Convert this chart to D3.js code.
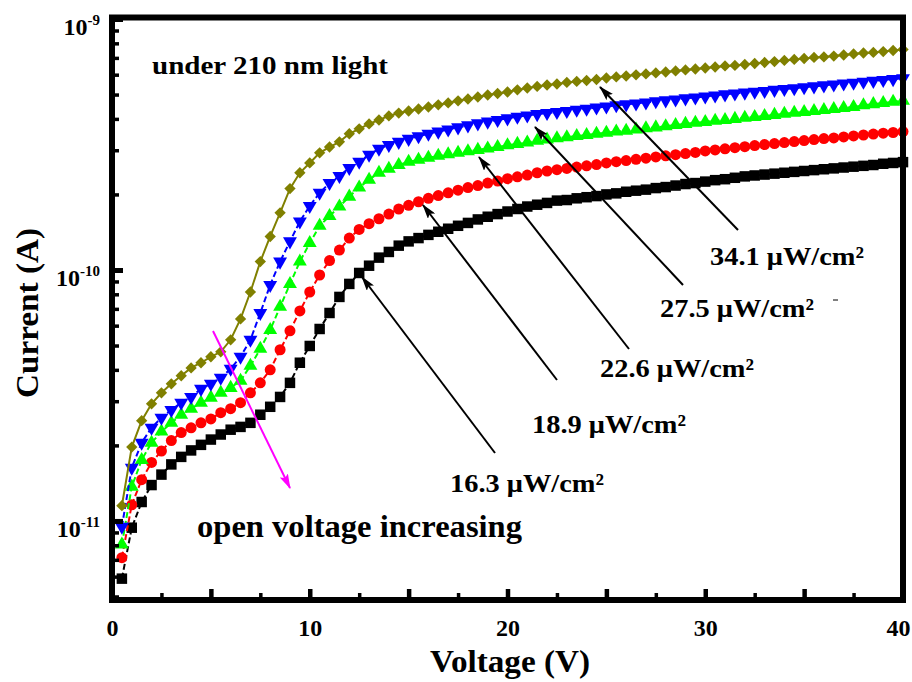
<!DOCTYPE html>
<html lang="en">
<head>
<meta charset="UTF-8">
<title>Current-Voltage under 210 nm light</title>
<script src="https://cdn.jsdelivr.net/npm/d3@7/dist/d3.min.js"></script>
<style>
    body { margin: 0; background: #fff; }
    svg { display: block; }
    text {
        font-family: "Liberation Serif", "Times New Roman", Times, serif;
        font-weight: bold;
        fill: #000;
    }
</style>
</head>
<body>
<script>
    const width = 912;
    const height = 682;

    // bias voltage (V)
    const voltages = [0.5, 1, 1.5, 2, 2.5, 3, 3.5, 4, 4.5, 5, 5.5, 6, 6.5, 7, 7.5, 8, 8.5, 9, 9.5, 10,
        10.5, 11, 11.5, 12, 12.5, 13, 13.5, 14, 14.5, 15, 15.5, 16, 16.5, 17, 17.5, 18, 18.5, 19, 19.5, 20,
        20.5, 21, 21.5, 22, 22.5, 23, 23.5, 24, 24.5, 25, 25.5, 26, 26.5, 27, 27.5, 28, 28.5, 29, 29.5, 30,
        30.5, 31, 31.5, 32, 32.5, 33, 33.5, 34, 34.5, 35, 35.5, 36, 36.5, 37, 37.5, 38, 38.5, 39, 39.5, 40];

    // photocurrent, in pA (1e-12 A)
    const cur163 = [5.89, 9.40, 11.9, 13.9, 15.3, 16.8, 18.0, 19.1, 20.1, 21.1, 22.1, 23.1, 23.7, 24.6, 26.5, 28.5, 31.2, 35.5, 42.7, 49.8,
        58.2, 67.4, 78.1, 88.0, 97.3, 104, 112, 118, 125, 130, 134, 138, 142, 146, 150, 154, 159, 163, 167, 171,
        175, 179, 182, 185, 189, 190, 193, 195, 197, 200, 202, 205, 207, 209, 212, 214, 217, 220, 222, 225,
        228, 230, 233, 236, 238, 240, 242, 244, 246, 248, 250, 252, 254, 256, 258, 260, 262, 265, 267, 269];
    const cur189 = [7.14, 11.6, 14.6, 17.1, 19.0, 20.9, 22.5, 23.5, 24.6, 25.5, 27.0, 28.0, 29.6, 32.4, 35.5, 40.0, 48.1, 57.2, 68.7, 81.7,
        95.5, 109, 120, 134, 145, 153, 160, 167, 175, 181, 187, 193, 198, 203, 208, 213, 217, 222, 226, 231,
        235, 239, 244, 248, 251, 254, 257, 260, 263, 267, 270, 273, 276, 279, 282, 285, 288, 291, 294, 298,
        301, 304, 307, 310, 313, 316, 319, 322, 325, 328, 331, 334, 336, 339, 342, 345, 348, 351, 353, 356];
    const cur226 = [8.05, 13.7, 17.5, 20.5, 22.7, 24.6, 26.5, 28.0, 29.6, 31.0, 32.4, 33.9, 36.2, 41.5, 48.5, 57.7, 71.3, 88.0, 108, 128,
        150, 164, 179, 196, 213, 229, 244, 253, 262, 270, 275, 280, 285, 289, 293, 297, 301, 305, 309, 314,
        318, 322, 327, 331, 335, 338, 342, 345, 349, 352, 356, 359, 363, 367, 370, 374, 378, 382, 386, 389,
        393, 396, 400, 404, 407, 411, 415, 419, 423, 426, 430, 434, 438, 442, 446, 453, 458, 463, 468, 473];
    const cur275 = [9.49, 16.3, 20.5, 23.5, 25.8, 27.7, 29.6, 31.2, 33.6, 35.2, 37.2, 40.4, 45.1, 52.7, 67.4, 87.2, 108, 130, 156, 180,
        203, 222, 237, 255, 270, 288, 304, 315, 324, 333, 341, 349, 356, 363, 370, 377, 384, 390, 396, 402,
        408, 413, 418, 422, 426, 430, 435, 439, 444, 448, 453, 457, 461, 465, 470, 474, 478, 483, 487, 491,
        496, 501, 505, 509, 513, 517, 522, 526, 530, 535, 539, 544, 548, 553, 557, 562, 567, 572, 576, 581];
    const cur341 = [11.5, 19.7, 25.1, 29.3, 32.4, 35.2, 37.9, 40.7, 42.7, 45.1, 47.2, 52.7, 63.8, 81.7, 108, 136, 169, 211, 244, 267,
        293, 309, 324, 349, 365, 382, 396, 411, 422, 430, 438, 446, 455, 463, 472, 480, 489, 498, 505, 512,
        522, 531, 539, 546, 551, 559, 564, 569, 574, 582, 588, 593, 599, 604, 610, 615, 621, 627, 632, 638,
        644, 650, 653, 659, 665, 671, 677, 684, 690, 696, 703, 706, 712, 719, 726, 732, 736, 742, 749, 756];

    const intensities = ['16.3', '18.9', '22.6', '27.5', '34.1'];

    // axis ticks
    const xMajor = [0, 5, 10, 15, 20, 25, 30, 35, 40];
    const xMinor = [2.5, 7.5, 12.5, 17.5, 22.5, 27.5, 32.5, 37.5];
    const xLabelled = [0, 10, 20, 30, 40];
    const yMajor = [10, 100, 1000];
    const yExponents = ['-11', '-10', '-9'];
    const yMinor = [5, 6, 7, 8, 9, 20, 30, 40, 50, 60, 70, 80, 90, 200, 300, 400, 500, 600, 700, 800, 900];

    let svg = d3.select('body')
        .append('svg')
        .attr('width', width)
        .attr('height', height);

    svg.append('rect').attr('width', width).attr('height', height).attr('fill', '#fff');

    const x = d3.scaleLinear().domain([0, 40]).range([112, 903]);
    const y = d3.scaleLog().domain([4.842, 1014]).range([600, 17.5]);

    // arrow heads
    let defs = svg.append('defs');
    [['arrowK', '#000'], ['arrowM', '#ff00ff']].forEach(([id, c]) => {
        defs.append('marker')
            .attr('id', id)
            .attr('viewBox', '0 0 15 9')
            .attr('refX', 14).attr('refY', 4.5)
            .attr('markerWidth', 15).attr('markerHeight', 9)
            .attr('markerUnits', 'userSpaceOnUse')
            .attr('orient', 'auto')
            .append('path')
            .attr('d', 'M0,0 L15,4.5 L0,9 L3,4.5 Z')
            .attr('fill', c);
    });

    // series styles
    const series = [
        {values: cur163, color: '#000000', symbol: d3.symbolSquare, size: 110, rot: 0, dash: '6,3'},
        {values: cur189, color: '#ff0000', symbol: d3.symbolCircle, size: 95, rot: 0, dash: '6,3'},
        {values: cur226, color: '#00ff00', symbol: d3.symbolTriangle, size: 84, rot: 0, dash: '6,3'},
        {values: cur275, color: '#0000ff', symbol: d3.symbolTriangle, size: 84, rot: 180, dash: '6,3'},
        {values: cur341, color: '#808000', symbol: d3.symbolSquare, size: 64, rot: 45, dash: null}
    ];

    const line = d3.line()
        .x((d, i) => x(voltages[i]))
        .y(d => y(d));

    let plot = svg.append('g');
    series.forEach(s => {
        let g = plot.append('g');
        g.append('path')
            .attr('d', line(s.values))
            .attr('fill', 'none')
            .attr('stroke', s.color)
            .attr('stroke-width', 2)
            .attr('stroke-dasharray', s.dash);
        g.selectAll('path.pt')
            .data(s.values)
            .enter()
            .append('path')
            .attr('class', 'pt')
            .attr('d', d3.symbol().type(s.symbol).size(s.size))
            .attr('transform', (d, i) => `translate(${x(voltages[i])},${y(d)}) rotate(${s.rot})`)
            .attr('fill', s.color);
    });

    // x axis ticks (inward)
    let xAxisMinor = svg.append('g')
        .attr('transform', 'translate(0,600)')
        .call(d3.axisBottom(x).tickValues(xMinor).tickSize(-7).tickFormat(''));
    let xAxis = svg.append('g')
        .attr('transform', 'translate(0,600)')
        .call(d3.axisBottom(x).tickValues(xMajor).tickSize(-11).tickPadding(19)
            .tickFormat(d => xLabelled.includes(d) ? d : ''));
    xAxisMinor.selectAll('line').attr('stroke-width', 3.5);
    xAxis.selectAll('line').attr('stroke-width', 4.5);
    xAxis.attr('font-family', null).attr('font-size', null);
    xAxis.selectAll('text')
        .attr('font-size', 24)
        .attr('dx', d => d === 40 ? -5 : 0);

    // y axis ticks (inward)
    let yAxisMinor = svg.append('g')
        .attr('transform', 'translate(112,0)')
        .call(d3.axisLeft(y).tickValues(yMinor).tickSize(-7).tickFormat(''));
    let yAxis = svg.append('g')
        .attr('transform', 'translate(112,0)')
        .call(d3.axisLeft(y).tickValues(yMajor).tickSize(-11).tickFormat(''));
    yAxisMinor.selectAll('line').attr('stroke-width', 3.5);
    yAxis.selectAll('line').attr('stroke-width', 5);
    [xAxisMinor, xAxis, yAxisMinor, yAxis].forEach(a => a.select('.domain').remove());

    let yLab = svg.append('g')
        .selectAll('text')
        .data(yMajor)
        .enter()
        .append('text')
        .attr('x', 100)
        .attr('y', d => y(d) + 16)
        .attr('text-anchor', 'end')
        .attr('font-size', 24);
    yLab.append('tspan').text('10');
    yLab.append('tspan')
        .attr('font-size', 15)
        .attr('dy', -10)
        .text((d, i) => yExponents[i]);

    // frame
    svg.append('rect')
        .attr('x', 112).attr('y', 17.5)
        .attr('width', 903 - 112).attr('height', 600 - 17.5)
        .attr('fill', 'none')
        .attr('stroke', '#000')
        .attr('stroke-width', 6);

    // axis titles
    svg.append('text')
        .attr('x', 430).attr('y', 672)
        .attr('font-size', 32)
        .attr('textLength', 160).attr('lengthAdjust', 'spacingAndGlyphs')
        .text('Voltage (V)');
    svg.append('text')
        .attr('transform', 'translate(38,313) rotate(-90)')
        .attr('text-anchor', 'middle')
        .attr('font-size', 32)
        .attr('textLength', 170).attr('lengthAdjust', 'spacingAndGlyphs')
        .text('Current (A)');

    svg.append('text')
        .attr('x', 152).attr('y', 74)
        .attr('font-size', 25)
        .attr('textLength', 236).attr('lengthAdjust', 'spacingAndGlyphs')
        .text('under 210 nm light');

    svg.append('text')
        .attr('x', 197).attr('y', 537)
        .attr('font-size', 31)
        .attr('textLength', 325).attr('lengthAdjust', 'spacingAndGlyphs')
        .text('open voltage increasing');

    // intensity labels with pointer arrows
    const callouts = [
        {lx: 450, ly: 492, from: [495, 453], to: [362, 277]},
        {lx: 532, ly: 433, from: [557, 380], to: [423, 205]},
        {lx: 600, ly: 377, from: [629, 349], to: [479, 157]},
        {lx: 660, ly: 317, from: [683, 285], to: [535, 127]},
        {lx: 710, ly: 265, from: [738, 230], to: [600, 87]}
    ];
    callouts.forEach((c, i) => {
        svg.append('line')
            .attr('x1', c.from[0]).attr('y1', c.from[1])
            .attr('x2', c.to[0]).attr('y2', c.to[1])
            .attr('stroke', '#000')
            .attr('stroke-width', 2)
            .attr('marker-end', 'url(#arrowK)');
        svg.append('text')
            .attr('x', c.lx).attr('y', c.ly)
            .attr('font-size', 26)
            .attr('textLength', 154).attr('lengthAdjust', 'spacingAndGlyphs')
            .text(intensities[i] + ' μW/cm²');
    });

    // small stray dash next to the 27.5 label
    svg.append('line')
        .attr('x1', 833).attr('x2', 838).attr('y1', 300).attr('y2', 300)
        .attr('stroke', '#000').attr('stroke-width', 1);

    svg.append('line')
        .attr('x1', 213).attr('y1', 331)
        .attr('x2', 290).attr('y2', 488)
        .attr('stroke', '#ff00ff')
        .attr('stroke-width', 2)
        .attr('marker-end', 'url(#arrowM)');
</script>
</body>
</html>
